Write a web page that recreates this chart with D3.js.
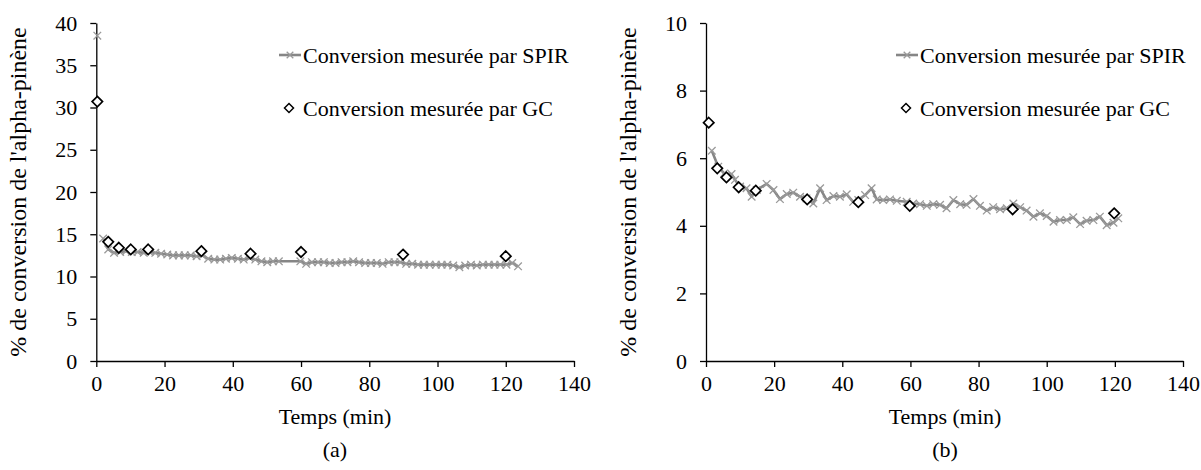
<!DOCTYPE html>
<html>
<head>
<meta charset="utf-8">
<script src="https://cdn.jsdelivr.net/npm/d3@7"></script>
<style>
  html, body { margin: 0; padding: 0; background: #fff; }
  svg { display: block; }
  text { font-family: "Liberation Serif", "Times New Roman", serif; fill: #000; }
</style>
</head>
<body>
<svg id="chart" width="1201" height="470"></svg>
<script>
// ---- Data: chart (a) ----
const spirTimeA = [0.3, 1.0, 2.0, 3.5, 5.2, 7.0, 8.7, 10.4, 12.1, 13.9, 15.6, 17.3, 19.0, 20.8, 22.5, 24.2, 25.9, 27.7, 29.4, 31.1, 32.8, 34.6, 36.3, 38.0, 39.7, 41.5, 43.2, 44.9, 46.6, 48.4, 50.1, 51.8, 53.5, 59.8, 61.5, 63.2, 65.0, 66.7, 68.4, 70.1, 71.9, 73.6, 75.3, 77.0, 78.8, 80.5, 82.2, 83.9, 85.7, 87.4, 89.1, 90.8, 92.6, 94.3, 96.0, 97.7, 99.5, 101.2, 102.9, 104.6, 106.4, 108.1, 109.8, 111.5, 113.3, 115.0, 116.7, 118.4, 120.2, 121.9, 123.6];
const spirValA  = [38.5, null, 14.5, 13.2, 12.8, 12.9, 13.0, 12.9, 12.9, 12.8, 12.9, 12.8, 12.7, 12.6, 12.5, 12.5, 12.5, 12.5, 12.4, 12.5, 12.1, 12.0, 12.0, 12.1, 12.2, 12.1, 12.0, 12.2, 12.0, 11.8, 11.7, 11.8, 11.8, 11.8, 11.5, 11.7, 11.7, 11.7, 11.6, 11.6, 11.7, 11.7, 11.8, 11.7, 11.6, 11.6, 11.6, 11.5, 11.7, 11.7, 11.7, 11.5, 11.5, 11.4, 11.4, 11.4, 11.4, 11.4, 11.4, 11.3, 11.1, 11.3, 11.4, 11.3, 11.4, 11.4, 11.4, 11.4, 11.4, 11.6, 11.2];
const gcTimeA = [0.3, 3.5, 6.6, 10.1, 15.2, 30.8, 45.2, 60.0, 89.9, 120.0];
const gcValA  = [30.7, 14.1, 13.4, 13.2, 13.2, 13.0, 12.7, 12.9, 12.6, 12.4];
const yTicksA = [0, 5, 10, 15, 20, 25, 30, 35, 40];

// ---- Data: chart (b) ----
const spirTimeB = [1.7, 3.6, 5.3, 7.5, 8.5, 10.0, 11.9, 13.4, 14.9, 17.8, 19.8, 21.7, 23.7, 25.6, 27.6, 29.5, 31.5, 33.5, 35.4, 37.4, 39.3, 41.3, 43.2, 44.7, 46.7, 48.6, 50.1, 52.0, 54.0, 56.0, 58.9, 60.8, 62.8, 64.8, 66.7, 68.7, 70.6, 72.6, 74.6, 76.5, 78.5, 80.4, 82.4, 84.3, 86.3, 88.3, 90.2, 92.2, 94.1, 96.1, 98.0, 100.0, 102.0, 103.9, 105.9, 107.8, 109.8, 111.7, 113.7, 115.6, 117.6, 119.6, 121.0];
const spirValB  = [6.22, 5.75, 5.55, 5.53, 5.36, 5.16, 5.11, 4.86, 5.06, 5.24, 5.06, 4.79, 4.94, 4.98, 4.86, 4.81, 4.66, 5.11, 4.76, 4.88, 4.86, 4.93, 4.71, 4.76, 4.91, 5.11, 4.78, 4.76, 4.78, 4.74, 4.71, 4.66, 4.64, 4.59, 4.64, 4.62, 4.52, 4.76, 4.64, 4.62, 4.79, 4.59, 4.45, 4.55, 4.49, 4.52, 4.66, 4.55, 4.45, 4.27, 4.37, 4.29, 4.12, 4.17, 4.17, 4.25, 4.05, 4.15, 4.17, 4.27, 4.02, 4.09, 4.22];
const gcTimeB = [0.8, 3.3, 6.0, 9.6, 14.6, 29.7, 44.7, 59.8, 90.0, 119.8];
const gcValB  = [7.05, 5.70, 5.43, 5.14, 5.04, 4.78, 4.70, 4.59, 4.49, 4.37];
const yTicksB = [0, 2, 4, 6, 8, 10];

const xTicks = [0, 20, 40, 60, 80, 100, 120, 140];
const yTitle = "% de conversion de l'alpha-pinène";
const xTitle = "Temps (min)";
const legendLabels = ["Conversion mesurée par SPIR", "Conversion mesurée par GC"];
const panelLabels = ["(a)", "(b)"];

const svg = d3.select("#chart");
const FONT = 22;
const LINE_COLOR = "#868686";
const MARK_COLOR = "#9a9a9a";

function crossPath(s) { return `M${-s},${-s}L${s},${s}M${-s},${s}L${s},${-s}`; }
function diamondPath(s) { return `M0,${-s}L${s},0L0,${s}L${-s},0Z`; }

function drawPanel(cfg) {
  const x = d3.scaleLinear().domain([0, 140]).range([cfg.x0, cfg.x1]);
  const y = d3.scaleLinear().domain([0, cfg.yMax]).range([cfg.yBottom, cfg.yTop]);
  const g = svg.append("g");

  // axes
  const xAxis = d3.axisBottom(x).tickValues(xTicks).tickSize(6).tickSizeOuter(0).tickPadding(8);
  const gx = g.append("g").attr("transform", `translate(0,${cfg.yBottom})`).call(xAxis);
  const yAxis = d3.axisLeft(y).tickValues(cfg.yTicks).tickSize(6).tickSizeOuter(0).tickPadding(13);
  const gy = g.append("g").attr("transform", `translate(${cfg.x0},0)`).call(yAxis);
  [gx, gy].forEach(a => {
    a.selectAll("path.domain").attr("stroke", "#000").attr("stroke-width", 1.3);
    a.selectAll(".tick line").attr("stroke", "#000").attr("stroke-width", 1.3);
    a.selectAll(".tick text").style("font-family", "Liberation Serif").style("font-size", FONT + "px").attr("fill", "#000");
  });
  gx.selectAll(".tick text").attr("dy", "0.71em");

  // SPIR line
  const pts = cfg.spirT.map((t, i) => ({ t, v: cfg.spirV[i] }));
  const line = d3.line().defined(d => d.v != null).x(d => x(d.t)).y(d => y(d.v));
  g.append("path").datum(pts).attr("d", line)
    .attr("fill", "none").attr("stroke", LINE_COLOR).attr("stroke-width", 2.6).attr("stroke-linejoin", "round");
  g.selectAll(null).data(pts.filter(d => d.v != null)).enter().append("path")
    .attr("transform", d => `translate(${x(d.t)},${y(d.v)})`)
    .attr("d", crossPath(3.8)).attr("stroke", MARK_COLOR).attr("stroke-width", 1.3).attr("fill", "none");

  // GC diamonds
  g.selectAll(null).data(cfg.gcT.map((t, i) => ({ t, v: cfg.gcV[i] }))).enter().append("path")
    .attr("transform", d => `translate(${x(d.t)},${y(d.v)})`)
    .attr("d", diamondPath(5.2)).attr("stroke", "#000").attr("stroke-width", 1.7).attr("fill", "#fff");

  // titles
  const cx = (cfg.x0 + cfg.x1) / 2;
  g.append("text").attr("x", cfg.xTitleX).attr("y", 424).attr("text-anchor", "middle")
    .style("font-size", FONT + "px").text(xTitle);
  g.append("text").attr("x", cfg.xTitleX).attr("y", 457).attr("text-anchor", "middle")
    .style("font-size", FONT + "px").text(cfg.panel);
  g.append("text").attr("transform", `translate(${cfg.yTitleX},${(cfg.yTop + cfg.yBottom) / 2}) rotate(-90)`)
    .attr("text-anchor", "middle").style("font-size", (FONT + 2) + "px").text(yTitle);

  // legend
  const lg = g.append("g");
  lg.append("line").attr("x1", cfg.legX - 22).attr("x2", cfg.legX).attr("y1", 55).attr("y2", 55)
    .attr("stroke", LINE_COLOR).attr("stroke-width", 2.6);
  lg.append("path").attr("transform", `translate(${cfg.legX - 11},55)`).attr("d", crossPath(3.3))
    .attr("stroke", MARK_COLOR).attr("stroke-width", 1.3);
  lg.append("text").attr("x", cfg.legX + 2).attr("y", 63).style("font-size", FONT + "px").text(legendLabels[0]);
  lg.append("path").attr("transform", `translate(${cfg.legX - 12},108)`).attr("d", diamondPath(4.5))
    .attr("stroke", "#000").attr("stroke-width", 1.5).attr("fill", "#fff");
  lg.append("text").attr("x", cfg.legX + 2).attr("y", 116).style("font-size", FONT + "px").text(legendLabels[1]);
}

drawPanel({ x0: 96.3, x1: 574, yTop: 23, yBottom: 361, yMax: 40, yTicks: yTicksA,
  spirT: spirTimeA, spirV: spirValA, gcT: gcTimeA, gcV: gcValA,
  xTitleX: 335, yTitleX: 26, legX: 301, panel: panelLabels[0] });
drawPanel({ x0: 706, x1: 1183, yTop: 23, yBottom: 361, yMax: 10, yTicks: yTicksB,
  spirT: spirTimeB, spirV: spirValB, gcT: gcTimeB, gcV: gcValB,
  xTitleX: 945, yTitleX: 636, legX: 918, panel: panelLabels[1] });
</script>
</body>
</html>
